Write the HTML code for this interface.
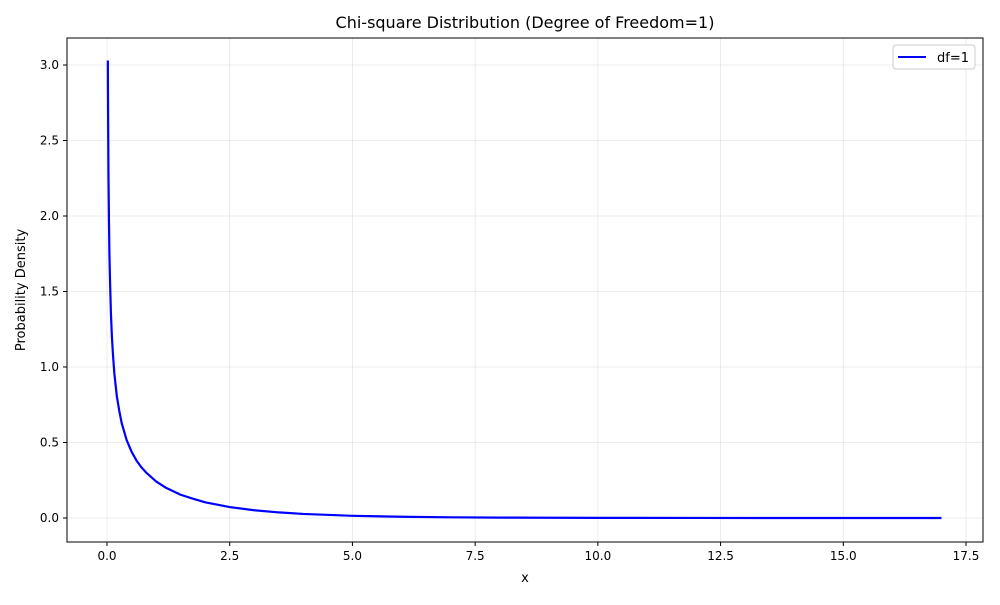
<!DOCTYPE html>
<html><head><meta charset="utf-8"><style>
body{margin:0;background:#fff;font-family:"Liberation Sans","DejaVu Sans",sans-serif}
</style></head><body>
<svg id="chart" width="1000" height="600" xmlns="http://www.w3.org/2000/svg" font-family="DejaVu Sans, Liberation Sans, sans-serif">
<rect width="1000" height="600" fill="#fff"/>
<g id="grid"></g>
<g id="series"></g>
<rect x="67" y="38" width="916" height="504" fill="none" stroke="#000" stroke-width="1"/>
<g id="xticks"></g>
<g id="yticks"></g>
<text x="525" y="28" text-anchor="middle" font-size="16">Chi-square Distribution (Degree of Freedom=1)</text>
<text x="525" y="582" text-anchor="middle" font-size="13">x</text>
<text x="25" y="290" text-anchor="middle" font-size="13" transform="rotate(-90 25 290)">Probability Density</text>
<g>
<rect x="893" y="45" width="82" height="24" rx="3" fill="#fff" stroke="#ccc"/>
<line x1="898" y1="57" x2="926" y2="57" stroke="#0000ff" stroke-width="2"/>
<text x="937" y="62" font-size="13">df=1</text>
</g>
</svg>
<script>
const xValues=[0.017,0.02,0.03,0.04,0.05,0.06,0.08,0.1,0.12,0.15,0.2,0.25,0.3,0.4,0.5,0.6,0.7,0.8,1.0,1.2,1.5,1.75,2,2.5,3,3.5,4,5,6,7,8,10,12,17];
const yValues=[3.03,2.79,2.27,1.97,1.74,1.59,1.355,1.20,1.09,0.956,0.807,0.71,0.627,0.516,0.439,0.381,0.336,0.300,0.242,0.200,0.154,0.128,0.104,0.0723,0.0514,0.0370,0.027,0.0146,0.0081,0.0046,0.0025,0.0009,0.0003,0.00002];
const xTicks=[0,2.5,5,7.5,10,12.5,15,17.5];
const yTicks=[0,0.5,1.0,1.5,2.0,2.5,3.0];
const NS='http://www.w3.org/2000/svg';
const X=v=>107+v*(966-107)/17.5;
const Y=v=>518-v*151;
function mk(t,a,p){const e=document.createElementNS(NS,t);for(const k in a)e.setAttribute(k,a[k]);p.appendChild(e);return e;}
const grid=document.getElementById('grid'),xt=document.getElementById('xticks'),yt=document.getElementById('yticks');
xTicks.forEach(v=>{
 const g=mk('line',{x1:X(v),x2:X(v),y1:38,y2:542,stroke:'#b0b0b0','stroke-opacity':0.3,'stroke-width':0.8},grid);
 
 
 const t=mk('line',{x1:X(v),x2:X(v),y1:542,y2:546,stroke:'#000'},xt);
 
 
 const l=mk('text',{x:X(v),y:560,'text-anchor':'middle','font-size':12},xt);
 l.textContent=v.toFixed(1);
 
 
});
yTicks.forEach(v=>{
 const g=mk('line',{x1:67,x2:983,y1:Y(v),y2:Y(v),stroke:'#b0b0b0','stroke-opacity':0.3,'stroke-width':0.8},grid);
 
 
 const t=mk('line',{x1:63,x2:67,y1:Y(v),y2:Y(v),stroke:'#000'},yt);
 
 
 const l=mk('text',{x:59,y:Y(v)+4,'text-anchor':'end','font-size':12},yt);
 l.textContent=v.toFixed(1);
 
 
});
const d=xValues.map((x,i)=>(i?'L':'M')+X(x).toFixed(2)+','+Y(yValues[i]).toFixed(2)).join('');
const p=mk('path',{d:d,fill:'none',stroke:'#0000ff','stroke-width':2.2,'stroke-linejoin':'round'},document.getElementById('series'));


</script>
</body></html>
